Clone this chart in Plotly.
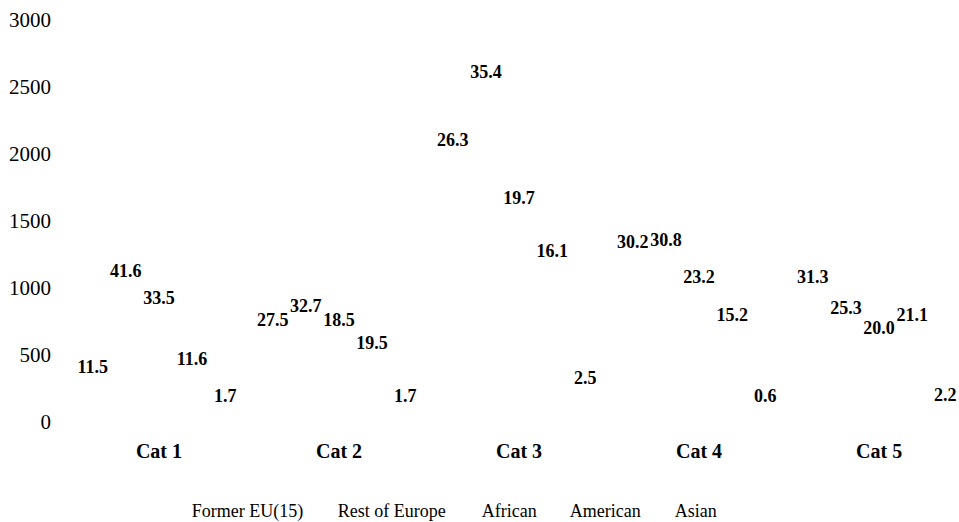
import plotly.graph_objects as go

categories = ["Cat 1", "Cat 2", "Cat 3", "Cat 4", "Cat 5"]
series_names = ["Former EU(15)", "Rest of Europe", "African", "American", "Asian"]

former_eu15 = [313, 664, 2007, 1246, 985]
rest_of_europe = [1030, 769, 2515, 1261, 754]
african = [828, 664, 1575, 985, 604]
american = [373, 493, 1179, 701, 701]
asian = [97, 97, 231, 97, 104]

former_eu15_labels = ["11.5", "27.5", "26.3", "30.2", "31.3"]
rest_of_europe_labels = ["41.6", "32.7", "35.4", "30.8", "25.3"]
african_labels = ["33.5", "18.5", "19.7", "23.2", "20.0"]
american_labels = ["11.6", "19.5", "16.1", "15.2", "21.1"]
asian_labels = ["1.7", "1.7", "2.5", "0.6", "2.2"]

y_ticks = [0, 500, 1000, 1500, 2000, 2500, 3000]

values = [former_eu15, rest_of_europe, african, american, asian]
labels = [former_eu15_labels, rest_of_europe_labels, african_labels,
          american_labels, asian_labels]
legend_widths = [101, 99, 43, 60, 40]

FONT = "Liberation Serif, Times New Roman, serif"

fig = go.Figure()
for name, vals, labs, lw in zip(series_names, values, labels, legend_widths):
    fig.add_trace(go.Bar(
        name=name,
        x=categories,
        y=vals,
        text=labs,
        textposition="outside",
        constraintext="none",
        cliponaxis=False,
        textfont=dict(family=FONT, size=18, color="black", weight="bold"),
        marker=dict(color="rgba(0,0,0,0)", line=dict(width=0)),
        hoverinfo="skip",
        legendwidth=lw,
    ))

fig.update_layout(
    template="none",
    width=959,
    height=522,
    barmode="group",
    bargap=0.08,
    bargroupgap=0,
    paper_bgcolor="white",
    plot_bgcolor="white",
    margin=dict(l=65, r=0, t=20, b=100, autoexpand=False),
    font=dict(family=FONT, color="black"),
    showlegend=True,
    legend=dict(
        orientation="h",
        x=0.097, xanchor="left",
        y=-0.219, yanchor="middle",
        font=dict(family=FONT, size=18, color="black"),
        itemwidth=30,
        tracegroupgap=0,
        bgcolor="rgba(0,0,0,0)",
        borderwidth=0,
    ),
    xaxis=dict(
        type="category",
        range=[-0.522, 4.444],
        automargin=False,
        showgrid=False,
        showline=False,
        zeroline=False,
        ticks="",
        tickfont=dict(family=FONT, size=20, color="black", weight="bold"),
        ticklabelstandoff=15,
        fixedrange=True,
    ),
    yaxis=dict(
        range=[0, 3000],
        automargin=False,
        tickvals=y_ticks,
        ticktext=[str(v) for v in y_ticks],
        showgrid=False,
        showline=False,
        zeroline=False,
        ticks="",
        tickfont=dict(family=FONT, size=21, color="black"),
        ticklabelstandoff=13,
        fixedrange=True,
    ),
)

fig.write_html(
    "out.html",
    config={"displayModeBar": False},
    post_script="document.body.style.margin='0';document.body.style.overflow='hidden';",
)
